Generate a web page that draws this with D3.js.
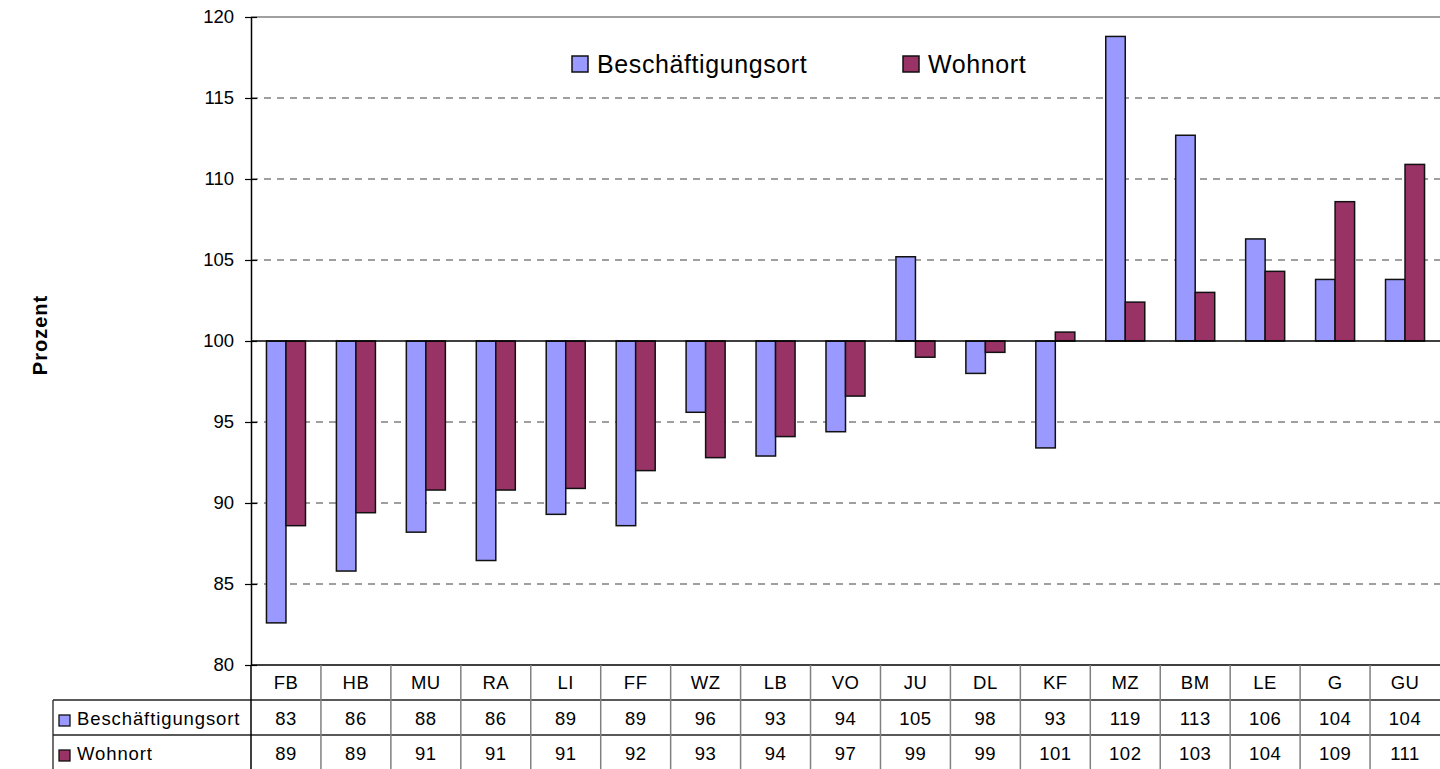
<!DOCTYPE html>
<html>
<head>
<meta charset="utf-8">
<script src="https://cdn.jsdelivr.net/npm/d3@7"></script>
<style>
  body { margin: 0; background: #fff; }
  text { font-family: "Liberation Sans", Arial, sans-serif; fill: #000; }
</style>
</head>
<body>
<div id="chart"></div>
<script>
// Data
var categories = ["FB", "HB", "MU", "RA", "LI", "FF", "WZ", "LB", "VO", "JU", "DL", "KF", "MZ", "BM", "LE", "G", "GU"];
var beschaeftigungsort = [82.6, 85.8, 88.2, 86.45, 89.3, 88.6, 95.6, 92.9, 94.4, 105.2, 98.0, 93.4, 118.8, 112.7, 106.3, 103.8, 103.8];
var wohnort = [88.6, 89.4, 90.8, 90.8, 90.9, 92.0, 92.8, 94.1, 96.6, 99.0, 99.3, 100.55, 102.4, 103.0, 104.3, 108.6, 110.9];
var seriesNames = ["Beschäftigungsort", "Wohnort"];
var yTicks = [80, 85, 90, 95, 100, 105, 110, 115, 120];

var svgWidth = 1440;
var svgHeight = 769;

var margin = { top: 17, right: 0, bottom: 104, left: 251 };
var width = svgWidth - margin.left - margin.right;
var height = svgHeight - margin.top - margin.bottom;

var colors = ["#9999ff", "#993366"];

var svg = d3.select("#chart")
  .append("svg")
  .attr("width", svgWidth)
  .attr("height", svgHeight);

var chartGroup = svg.append("g")
  .attr("transform", `translate(${margin.left}, ${margin.top})`);

// Scales
var xScale = d3.scaleBand()
  .domain(categories)
  .range([0, width]);

var yScale = d3.scaleLinear()
  .domain([80, 120])
  .range([height, 0]);

var barW = xScale.bandwidth() * 0.279;

// Gridlines
chartGroup.selectAll(".grid")
  .data(yTicks.filter(d => d !== 80 && d !== 100))
  .enter()
  .append("line")
  .attr("x1", 0)
  .attr("x2", width)
  .attr("y1", d => yScale(d))
  .attr("y2", d => yScale(d))
  .attr("stroke", "#808080")
  .attr("stroke-width", 1.5)
  .attr("stroke-dasharray", d => d === 120 ? null : "7,6");

// Bars, hanging from 100
var series = [beschaeftigungsort, wohnort];
series.forEach(function(values, s) {
  chartGroup.selectAll(".bar" + s)
    .data(values)
    .enter()
    .append("rect")
    .attr("x", (d, i) => xScale(categories[i]) + xScale.bandwidth() / 2 - barW + s * barW)
    .attr("y", d => yScale(Math.max(d, 100)))
    .attr("width", barW)
    .attr("height", d => Math.abs(yScale(d) - yScale(100)))
    .attr("fill", colors[s])
    .attr("stroke", "#111")
    .attr("stroke-width", 1.5);
});

// Left axis
var leftAxis = d3.axisLeft(yScale)
  .tickValues(yTicks)
  .tickSizeInner(6)
  .tickSizeOuter(0)
  .tickPadding(11);

var yAxisG = chartGroup.append("g").call(leftAxis);
yAxisG.select(".domain").attr("stroke", "#000").attr("stroke-width", 1.5);
yAxisG.selectAll(".tick line").attr("stroke", "#000").attr("x2", 6).attr("x1", -6).attr("stroke-width", 1.2);
yAxisG.selectAll(".tick text")
  .style("font-family", "Liberation Sans, Arial, sans-serif")
  .style("font-size", "18.5px")
  .attr("x", -17);

// Horizontal axis crossing at 100
chartGroup.append("line")
  .attr("x1", 0)
  .attr("x2", width)
  .attr("y1", yScale(100))
  .attr("y2", yScale(100))
  .attr("stroke", "#000")
  .attr("stroke-width", 1.5);

// Y label
svg.append("text")
  .attr("transform", "translate(47, 335) rotate(-90)")
  .attr("text-anchor", "middle")
  .style("font-size", "20px")
  .style("font-weight", "bold")
  .style("letter-spacing", "1px")
  .text("Prozent");

// Legend
var legendX = [572, 903];
seriesNames.forEach(function(name, s) {
  svg.append("rect")
    .attr("x", legendX[s])
    .attr("y", 56)
    .attr("width", 16)
    .attr("height", 16)
    .attr("fill", colors[s])
    .attr("stroke", "#111")
    .attr("stroke-width", 1.5);
  svg.append("text")
    .attr("x", legendX[s] + 25)
    .attr("y", 73)
    .style("font-size", "25px")
    .style("letter-spacing", "0.6px")
    .text(name);
});

// Data table
var tableTop = margin.top + height;
var rowH = 35;
var tableLeft = 53;
var table = svg.append("g");

// horizontal lines
table.append("line")
  .attr("x1", margin.left).attr("x2", svgWidth)
  .attr("y1", tableTop).attr("y2", tableTop)
  .attr("stroke", "#000").attr("stroke-width", 1.5);
[1, 2].forEach(function(r) {
  table.append("line")
    .attr("x1", tableLeft).attr("x2", svgWidth)
    .attr("y1", tableTop + r * rowH).attr("y2", tableTop + r * rowH)
    .attr("stroke", "#222").attr("stroke-width", 1.3);
});
// left border of row labels
table.append("line")
  .attr("x1", tableLeft).attr("x2", tableLeft)
  .attr("y1", tableTop + rowH).attr("y2", svgHeight)
  .attr("stroke", "#222").attr("stroke-width", 1.3);
// column separators
table.selectAll(".col")
  .data(categories)
  .enter()
  .append("line")
  .attr("x1", d => margin.left + xScale(d))
  .attr("x2", d => margin.left + xScale(d))
  .attr("y1", tableTop)
  .attr("y2", svgHeight)
  .attr("stroke", (d, i) => i === 0 ? "#000" : "#808080")
  .attr("stroke-width", 1.5);

// category row
table.selectAll(".cat")
  .data(categories)
  .enter()
  .append("text")
  .attr("x", d => margin.left + xScale(d) + xScale.bandwidth() / 2)
  .attr("y", tableTop + 24)
  .attr("text-anchor", "middle")
  .style("font-size", "18.5px")
  .style("letter-spacing", "0.5px")
  .text(d => d);

// value rows
series.forEach(function(values, s) {
  var y = tableTop + (s + 1) * rowH;
  table.append("rect")
    .attr("x", 59)
    .attr("y", y + 15)
    .attr("width", 11)
    .attr("height", 11)
    .attr("fill", colors[s])
    .attr("stroke", "#111")
    .attr("stroke-width", 1.3);
  table.append("text")
    .attr("x", 77)
    .attr("y", y + 25)
    .style("font-size", "18.5px")
    .style("letter-spacing", "0.9px")
    .text(seriesNames[s]);
  table.selectAll(".val" + s)
    .data(values)
    .enter()
    .append("text")
    .attr("x", (d, i) => margin.left + xScale(categories[i]) + xScale.bandwidth() / 2)
    .attr("y", y + 25)
    .attr("text-anchor", "middle")
    .style("font-size", "18.5px")
    .style("letter-spacing", "0.5px")
    .text(d => Math.round(d));
});
</script>
</body>
</html>
